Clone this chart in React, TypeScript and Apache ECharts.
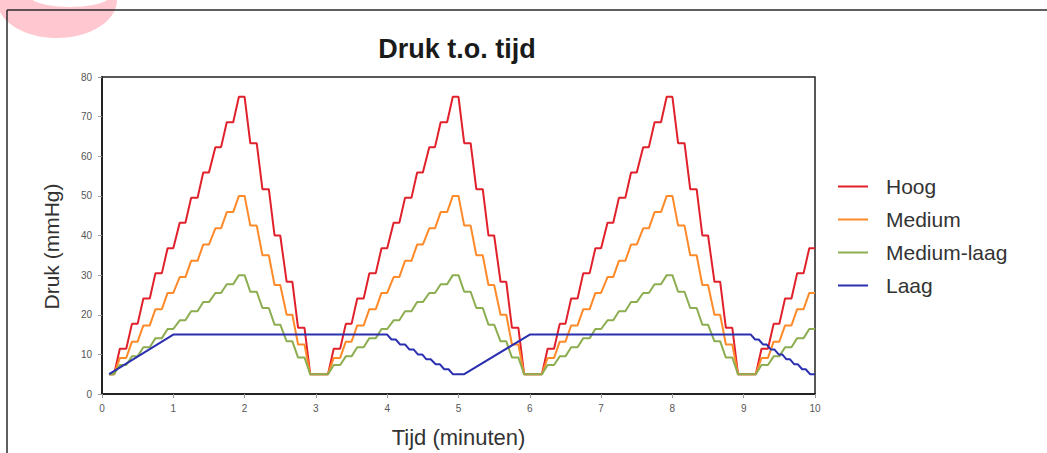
import React, { useEffect, useRef } from "react";
import * as echarts from "echarts";

const seriesNames = ["Hoog", "Medium", "Medium-laag", "Laag"];
const seriesColors = ["#e0202b", "#ff8a2a", "#8cad50", "#2a30b0"];
const titleText = "Druk t.o. tijd";
const xAxisTitle = "Tijd (minuten)";
const yAxisTitle = "Druk (mmHg)";

// plateaus of the staircase curves: [start minute, end minute]
const plateauTimes: number[][] = [
  [0.1, 0.17], [0.25, 0.34], [0.42, 0.5], [0.58, 0.67], [0.75, 0.84], [0.92, 1.0], [1.09, 1.17], [1.25, 1.34], [1.42, 1.5], [1.59, 1.67], [1.75, 1.84], [1.92, 2.0], [2.08, 2.17], [2.25, 2.34], [2.42, 2.5], [2.59, 2.67], [2.75, 2.84], [2.92, 3.17],
  [3.25, 3.34], [3.42, 3.5], [3.58, 3.67], [3.75, 3.84], [3.92, 4.0], [4.09, 4.17], [4.25, 4.34], [4.42, 4.5], [4.59, 4.67], [4.75, 4.84], [4.92, 5.0], [5.08, 5.17], [5.25, 5.34], [5.42, 5.5], [5.59, 5.67], [5.75, 5.84], [5.92, 6.17],
  [6.25, 6.34], [6.42, 6.5], [6.58, 6.67], [6.75, 6.84], [6.92, 7.0], [7.09, 7.17], [7.25, 7.34], [7.42, 7.5], [7.59, 7.67], [7.75, 7.84], [7.92, 8.0], [8.08, 8.17], [8.25, 8.34], [8.42, 8.5], [8.59, 8.67], [8.75, 8.84], [8.92, 9.17],
  [9.25, 9.34], [9.42, 9.5], [9.58, 9.67], [9.75, 9.84], [9.92, 10.0],
];

const hoogLevels = [
  5,
  11.4, 17.7, 24.1, 30.5, 36.8, 43.2, 49.5, 55.9, 62.3, 68.6, 75, 63.3, 51.7, 40, 28.3, 16.7, 5,
  11.4, 17.7, 24.1, 30.5, 36.8, 43.2, 49.5, 55.9, 62.3, 68.6, 75, 63.3, 51.7, 40, 28.3, 16.7, 5,
  11.4, 17.7, 24.1, 30.5, 36.8, 43.2, 49.5, 55.9, 62.3, 68.6, 75, 63.3, 51.7, 40, 28.3, 16.7, 5,
  11.4, 17.7, 24.1, 30.5, 36.8,
];

const mediumLevels = [
  5,
  9.1, 13.2, 17.3, 21.4, 25.5, 29.5, 33.6, 37.7, 41.8, 45.9, 50, 42.5, 35, 27.5, 20, 12.5, 5,
  9.1, 13.2, 17.3, 21.4, 25.5, 29.5, 33.6, 37.7, 41.8, 45.9, 50, 42.5, 35, 27.5, 20, 12.5, 5,
  9.1, 13.2, 17.3, 21.4, 25.5, 29.5, 33.6, 37.7, 41.8, 45.9, 50, 42.5, 35, 27.5, 20, 12.5, 5,
  9.1, 13.2, 17.3, 21.4, 25.5,
];

const mediumLaagLevels = [
  5,
  7.3, 9.5, 11.8, 14.1, 16.4, 18.6, 20.9, 23.2, 25.5, 27.7, 30, 25.8, 21.7, 17.5, 13.3, 9.2, 5,
  7.3, 9.5, 11.8, 14.1, 16.4, 18.6, 20.9, 23.2, 25.5, 27.7, 30, 25.8, 21.7, 17.5, 13.3, 9.2, 5,
  7.3, 9.5, 11.8, 14.1, 16.4, 18.6, 20.9, 23.2, 25.5, 27.7, 30, 25.8, 21.7, 17.5, 13.3, 9.2, 5,
  7.3, 9.5, 11.8, 14.1, 16.4,
];

const laagPoints: number[][] = [
  [0.1, 5], [1.0, 15], [4.0, 15],
  [4.06, 13.75], [4.12, 13.75], [4.18, 12.5], [4.25, 12.5], [4.31, 11.25], [4.37, 11.25], [4.43, 10], [4.49, 10],
  [4.55, 8.75], [4.61, 8.75], [4.68, 7.5], [4.74, 7.5], [4.8, 6.25], [4.86, 6.25], [4.92, 5],
  [5.08, 5], [6.0, 15], [9.1, 15],
  [9.16, 13.75], [9.21, 13.75], [9.27, 12.5], [9.32, 12.5], [9.38, 11.25], [9.43, 11.25], [9.49, 10], [9.54, 10],
  [9.6, 8.75], [9.65, 8.75], [9.71, 7.5], [9.76, 7.5], [9.82, 6.25], [9.87, 6.25], [9.93, 5], [10.0, 5],
];

function stairs(levels: number[]): number[][] {
  const out: number[][] = [];
  plateauTimes.forEach(([a, b], i) => {
    out.push([a, levels[i]]);
    out.push([b, levels[i]]);
  });
  return out;
}

export default function App() {
  const ref = useRef<HTMLDivElement>(null);
  useEffect(() => {
    if (!ref.current) return;
    const chart = echarts.init(ref.current, undefined, { renderer: "svg" });
    const dataSets = [stairs(hoogLevels), stairs(mediumLevels), stairs(mediumLaagLevels), laagPoints];
    chart.setOption({
      animation: false,
      backgroundColor: "#ffffff",
      title: {
        text: titleText,
        left: 457,
        top: 35,
        textAlign: "center",
        padding: 0,
        textStyle: { fontFamily: "Liberation Sans", fontSize: 27, fontWeight: "bold", color: "#1a1a1a" },
      },
      legend: {
        orient: "vertical",
        left: 838,
        top: 176,
        padding: 0,
        itemGap: 12,
        itemWidth: 30,
        itemHeight: 2,
        icon: "rect",
        data: seriesNames,
        textStyle: {
          fontFamily: "Liberation Sans",
          fontSize: 21,
          lineHeight: 21,
          color: "#333333",
          padding: [0, 0, 0, 13],
        },
      },
      grid: {
        left: 102,
        right: 232,
        top: 77,
        bottom: 59,
        show: true,
        borderColor: "#222222",
        borderWidth: 1.5,
        backgroundColor: "transparent",
      },
      xAxis: {
        type: "value",
        min: 0,
        max: 10,
        interval: 1,
        name: xAxisTitle,
        nameLocation: "middle",
        nameGap: 32,
        nameTextStyle: { fontFamily: "Liberation Sans", fontSize: 22, color: "#333333" },
        axisLine: { show: true, lineStyle: { color: "#222222", width: 2 } },
        axisTick: { show: true, length: 4, lineStyle: { color: "#999999" } },
        axisLabel: { margin: 9, fontFamily: "Liberation Sans", fontSize: 10, color: "#555555" },
        splitLine: { show: false },
      },
      yAxis: {
        type: "value",
        min: 0,
        max: 80,
        interval: 10,
        name: yAxisTitle,
        nameLocation: "middle",
        nameRotate: 90,
        nameGap: 40,
        nameTextStyle: {
          fontFamily: "Liberation Sans",
          fontSize: 21,
          color: "#333333",
          padding: [0, 22, 0, 0],
        },
        axisLine: { show: true, lineStyle: { color: "#222222", width: 2 } },
        axisTick: { show: true, length: 4, lineStyle: { color: "#999999" } },
        axisLabel: { margin: 10, fontFamily: "Liberation Sans", fontSize: 10, color: "#555555" },
        splitLine: { show: false },
      },
      series: seriesNames.map((name, i) => ({
        name,
        type: "line",
        data: dataSets[i],
        showSymbol: false,
        symbol: "none",
        color: seriesColors[i],
        lineStyle: { color: seriesColors[i], width: 2 },
      })),
      graphic: [
        { type: "ellipse", shape: { cx: 57, cy: 0, rx: 60, ry: 38 }, style: { fill: "#ffc8d1" }, z: 0 },
        { type: "ellipse", shape: { cx: 70, cy: -4, rx: 40, ry: 11 }, style: { fill: "#ffffff" }, z: 1 },
        { type: "line", shape: { x1: 7, y1: 10, x2: 1047, y2: 10 }, style: { stroke: "#2a2a2a", lineWidth: 1.5 }, z: 2 },
        { type: "line", shape: { x1: 7, y1: 10, x2: 7, y2: 453 }, style: { stroke: "#2a2a2a", lineWidth: 1.5 }, z: 2 },
      ],
    });
    return () => chart.dispose();
  }, []);
  return (
    <div
      ref={ref}
      style={{ position: "fixed", left: 0, top: 0, width: 1047, height: 453 }}
    />
  );
}
